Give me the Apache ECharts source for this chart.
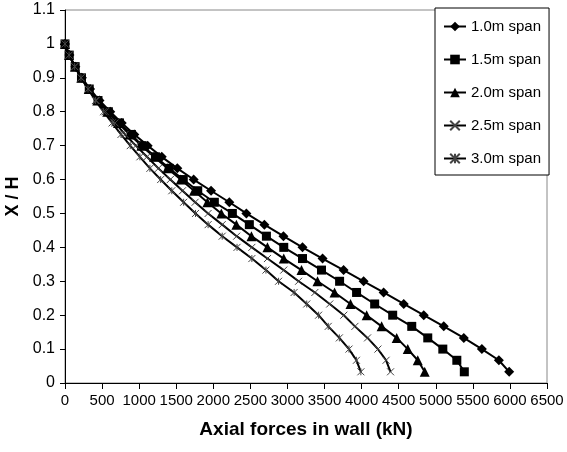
<!DOCTYPE html>
<html>
<head>
<meta charset="utf-8">
<script src="https://cdn.jsdelivr.net/npm/echarts@6/dist/echarts.min.js"></script>
<style>
html, body { margin: 0; padding: 0; background: #fff; }
#chart { width: 567px; height: 452px; }
</style>
</head>
<body>
<div id="chart"></div>
<script>
// x / H levels (same for every span)
var yLevels = [1, 0.967, 0.933, 0.9, 0.867, 0.833, 0.8, 0.767, 0.733, 0.7,
    0.667, 0.633, 0.6, 0.567, 0.533, 0.5, 0.467, 0.433, 0.4, 0.367,
    0.333, 0.3, 0.267, 0.233, 0.2, 0.167, 0.133, 0.1, 0.067, 0.033];

// axial forces (kN)
var span10 = [0, 60, 140, 228, 338, 465, 610, 765, 935, 1115,
    1305, 1515, 1735, 1970, 2216, 2446, 2689, 2946, 3203, 3473,
    3757, 4027, 4297, 4568, 4838, 5108, 5378, 5622, 5851, 5990];
var span15 = [0, 57, 137, 222, 327, 445, 585, 735, 895, 1040,
    1220, 1405, 1595, 1790, 2014, 2257, 2486, 2716, 2950, 3203,
    3459, 3703, 3932, 4176, 4419, 4676, 4892, 5095, 5284, 5385];
var span20 = [0, 55, 135, 220, 320, 435, 570, 715, 870, 1030,
    1200, 1380, 1560, 1740, 1920, 2108, 2311, 2514, 2730, 2950,
    3189, 3405, 3635, 3850, 4068, 4270, 4473, 4622, 4757, 4851];
var span25 = [0, 55, 132, 218, 315, 422, 545, 675, 810, 955,
    1105, 1260, 1420, 1585, 1755, 1930, 2120, 2315, 2520, 2730,
    2950, 3150, 3370, 3570, 3760, 3910, 4080, 4220, 4330, 4390];
var span30 = [0, 55, 130, 215, 310, 410, 520, 635, 755, 880,
    1010, 1145, 1290, 1440, 1600, 1760, 1930, 2120, 2320, 2520,
    2710, 2880, 3090, 3260, 3420, 3550, 3700, 3830, 3930, 3990];

var spanNames = ['1.0m span', '1.5m span', '2.0m span', '2.5m span', '3.0m span'];

var crossPath = 'path://M0,0L10,10M10,0L0,10';
var starPath = 'path://M0,0L10,10M10,0L0,10M5,0L5,10';

function toPairs(xs) {
    var out = [];
    for (var i = 0; i < xs.length; i++) {
        out.push([xs[i], yLevels[i]]);
    }
    return out;
}

function makeSeries(name, xs, symbol, size, stroked) {
    return {
        name: name,
        type: 'line',
        data: toPairs(xs),
        symbol: symbol,
        symbolSize: size,
        showAllSymbol: true,
        lineStyle: { color: '#000', width: 2 },
        itemStyle: stroked
            ? { color: 'none', borderColor: '#444', borderWidth: 1 }
            : { color: '#000', borderWidth: 0 },
        emphasis: { disabled: true },
        animation: false
    };
}

var myChart = echarts.init(document.getElementById('chart'));
var font = '"Liberation Sans", Arial, sans-serif';

myChart.setOption({
    backgroundColor: '#fff',
    grid: {
        left: 65, right: 20, top: 10, bottom: 69,
        outerBoundsMode: 'none',
        containLabel: false,
        show: true, borderColor: '#888', borderWidth: 1
    },
    legend: {
        orient: 'vertical',
        left: 435, top: 8,
        padding: [11, 8, 9, 8],
        itemGap: 18,
        itemWidth: 22, itemHeight: 12,
        borderColor: '#000', borderWidth: 1,
        backgroundColor: '#fff',
        textStyle: { fontFamily: font, fontSize: 15, color: '#000', lineHeight: 14 },
        data: spanNames
    },
    xAxis: {
        type: 'value',
        min: 0, max: 6500, interval: 500,
        name: 'Axial forces in wall (kN)',
        nameLocation: 'middle',
        nameGap: 37,
        nameTextStyle: { fontFamily: font, fontSize: 19, fontWeight: 'bold', color: '#000' },
        axisLine: { lineStyle: { color: '#000', width: 1 } },
        axisTick: { show: true, length: 6, lineStyle: { color: '#000' } },
        axisLabel: {
            fontFamily: font, fontSize: 15, color: '#000', margin: 10,
            showMaxLabel: true, showMinLabel: true, hideOverlap: false,
            formatter: function (v) { return String(v); }
        },
        splitLine: { show: false }
    },
    yAxis: {
        type: 'value',
        min: 0, max: 1.1, interval: 0.1,
        name: 'X / H',
        nameLocation: 'middle',
        nameGap: 41,
        nameRotate: 90,
        nameTextStyle: { fontFamily: font, fontSize: 18, fontWeight: 'bold', color: '#000' },
        axisLine: { show: true, lineStyle: { color: '#000', width: 1 } },
        axisTick: { show: true, length: 5, lineStyle: { color: '#000' } },
        axisLabel: { fontFamily: font, fontSize: 16, color: '#000', margin: 10, hideOverlap: false },
        splitLine: { show: false }
    },
    series: [
        makeSeries(spanNames[0], span10, 'diamond', 10, false),
        makeSeries(spanNames[1], span15, 'rect', 9, false),
        makeSeries(spanNames[2], span20, 'triangle', 10, false),
        makeSeries(spanNames[3], span25, crossPath, 7, true),
        makeSeries(spanNames[4], span30, starPath, 7, true)
    ]
});
</script>
</body>
</html>
